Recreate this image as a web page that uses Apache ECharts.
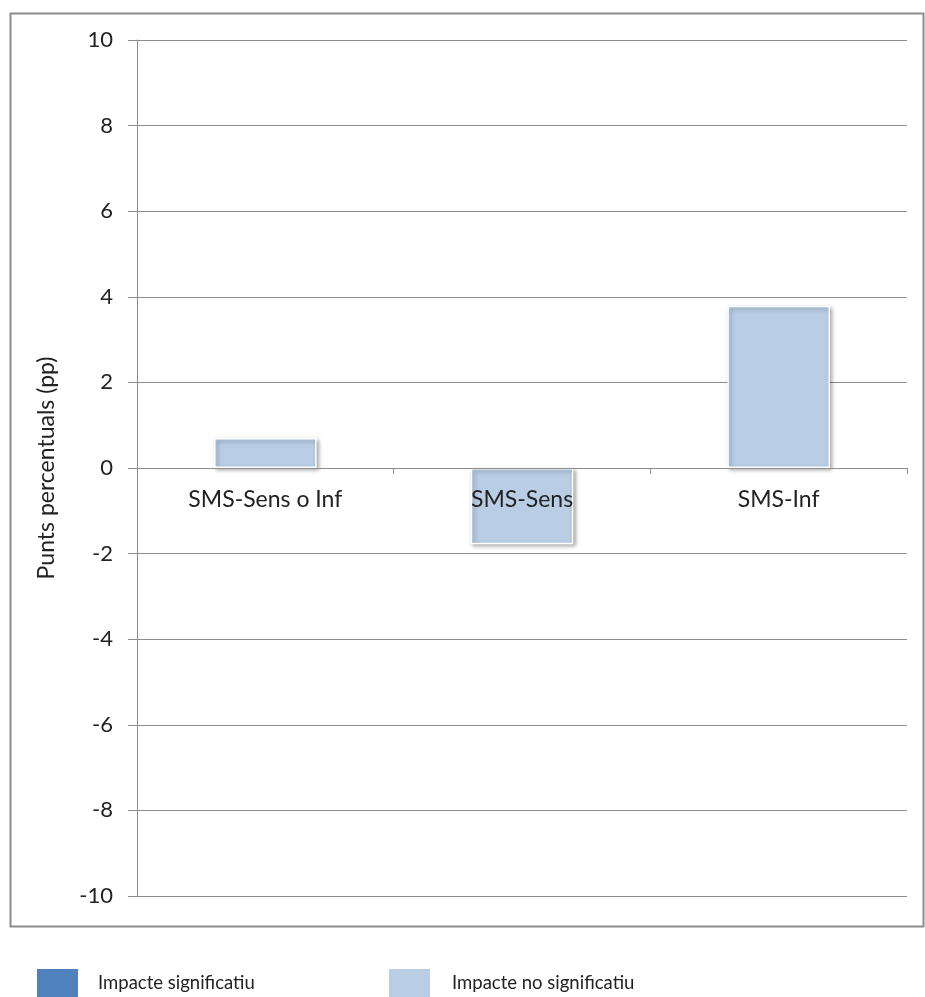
<!DOCTYPE html>
<html><head><meta charset="utf-8">
<script src="https://cdn.jsdelivr.net/npm/echarts@6/dist/echarts.min.js"></script>
<style>html,body{margin:0;padding:0;background:#fff}#c{width:925px;height:997px}</style>
</head><body><div id="c"></div>
<script>
const categories = ['SMS-Sens o Inf', 'SMS-Sens', 'SMS-Inf'];
const significant = [null, null, null];
const nonSignificant = [0.7, -1.78, 3.79];
const yTicks = { min: -10, max: 10, interval: 2 };
const yAxisTitle = 'Punts percentuals (pp)';
const seriesNames = ['Impacte significatiu', 'Impacte no significatiu'];

const font = 'Lato, "Open Sans", sans-serif';
const chart = echarts.init(document.getElementById('c'));
const barStyle = (c) => ({
  color: c, borderColor: '#ffffff', borderWidth: 1.5,
  shadowColor: 'rgba(0,0,0,0.35)', shadowBlur: 4, shadowOffsetX: 2, shadowOffsetY: 2
});
chart.setOption({
  animation: false,
  textStyle: { fontFamily: font },
  grid: { left: 137, right: 18, top: 40, bottom: 101, containLabel: false },
  graphic: [{
    type: 'rect', left: 8, top: 11, z: -1,
    shape: { x: 0, y: 0, width: 913, height: 913 },
    style: { fill: 'none', stroke: '#8c8c8c', lineWidth: 2 }
  }],
  legend: [
    { data: [seriesNames[0]], left: 35, top: 967, itemWidth: 43, itemHeight: 30, padding: 0,
      icon: 'rect', textStyle: { fontSize: 18.5, color: '#222', fontFamily: font, padding: [0, 0, 0, 14] } },
    { data: [seriesNames[1]], left: 387, top: 967, itemWidth: 43, itemHeight: 30, padding: 0,
      icon: 'rect', textStyle: { fontSize: 18.5, color: '#222', fontFamily: font, padding: [0, 0, 0, 16] } }
  ],
  xAxis: {
    type: 'category', data: categories, z: 10, position: 'bottom', offset: -428,
    axisLine: { onZero: false, lineStyle: { color: '#8c8c8c', width: 1 } },
    axisTick: { show: true, length: 6, lineStyle: { color: '#8c8c8c' } },
    axisLabel: { margin: 20, fontSize: 23, color: '#222', fontFamily: font },
    splitLine: { show: false }
  },
  yAxis: {
    type: 'value', min: yTicks.min, max: yTicks.max, interval: yTicks.interval,
    name: yAxisTitle, nameLocation: 'middle', nameGap: 79, nameRotate: 90,
    nameTextStyle: { fontSize: 23, color: '#222', fontFamily: font },
    axisLine: { show: true, lineStyle: { color: '#8c8c8c' } },
    axisTick: { show: true, length: 9, lineStyle: { color: '#8c8c8c' } },
    axisLabel: { margin: 24, fontSize: 22, color: '#222', fontFamily: font },
    splitLine: { show: true, lineStyle: { color: '#8c8c8c', width: 1 } }
  },
  series: [
    { name: seriesNames[0], type: 'bar', data: significant, barWidth: '40%', barGap: '-100%',
      itemStyle: barStyle('#4f81bd') },
    { name: seriesNames[1], type: 'bar', data: nonSignificant, barWidth: '40%', barGap: '-100%',
      itemStyle: barStyle('#b9cde5') }
  ]
});
</script></body></html>
